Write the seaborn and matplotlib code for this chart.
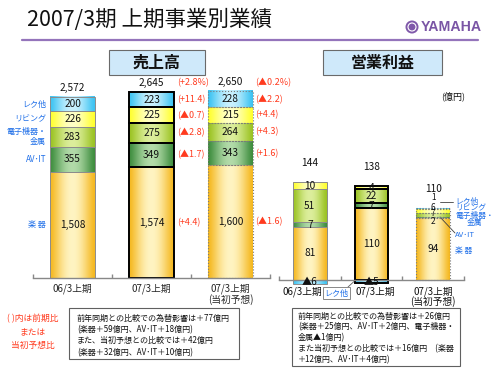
import numpy as np
import pandas as pd
import matplotlib
matplotlib.use("Agg")
import matplotlib.pyplot as plt
import matplotlib.colors as mcolors
from matplotlib.patches import Rectangle, Ellipse
from matplotlib.lines import Line2D
import seaborn as sns

sns.set_theme(style="white")
plt.rcParams['font.family'] = ['Noto Sans CJK JP', 'DejaVu Sans']

# ---------------- data ----------------
periods = ["06/3上期", "07/3上期", "07/3上期\n(当初予想)"]
segment_names = ["楽器", "AV・IT", "電子機器・金属", "リビング", "レク他"]
segment_labels = ["楽 器", "AV･IT", "電子機器・\n金属", "リビング", "レク他"]

sales_musical = [1508, 1574, 1600]
sales_avit = [355, 349, 343]
sales_elec = [283, 275, 264]
sales_living = [226, 225, 215]
sales_rec = [200, 223, 228]
sales_totals = [2572, 2645, 2650]
sales_chg_actual = ["(+4.4)", "(▲1.7)", "(▲2.8)", "(▲0.7)", "(+11.4)"]
sales_chg_plan = ["(▲1.6)", "(+1.6)", "(+4.3)", "(+4.4)", "(▲2.2)"]
sales_chg_total = ["(+2.8%)", "(▲0.2%)"]

profit_musical = [81, 110, 94]
profit_avit = [7, 7, 2]
profit_elec = [51, 22, 7]
profit_living = [10, 4, 6]
profit_rec = [-6, -5, 1]
profit_totals = [144, 138, 110]

note_left = ["前年同期との比較での為替影響は＋77億円",
             "(楽器＋59億円、AV･IT＋18億円)",
             "また、当初予想との比較では＋42億円",
             "(楽器＋32億円、AV･IT＋10億円)"]
note_right = ["前年同期との比較での為替影響は＋26億円",
              "(楽器＋25億円、AV･IT＋2億円、電子機器・",
              "金属▲1億円)",
              "また当初予想との比較では＋16億円　(楽器",
              "＋12億円、AV･IT＋4億円)"]

sales_series = [sales_musical, sales_avit, sales_elec, sales_living, sales_rec]
profit_series = [profit_musical, profit_avit, profit_elec, profit_living, profit_rec]

# ---------------- style ----------------
GRAD = [("#f5b81f", "#fff4c2"),   # 楽器
        ("#3e8d3e", "#b2dba9"),   # AV・IT
        ("#9bc322", "#dcee9c"),   # 電子機器・金属
        ("#ffff2e", "#ffffc6"),   # リビング
        ("#3cc3f2", "#c9f1ff")]   # レク他
BAR_STYLES = [dict(ec="#8c8c8c", lw=0.7, ls="-"),
              dict(ec="black", lw=1.4, ls="-"),
              dict(ec="#7a7a7a", lw=0.8, ls=":")]
RED = "#ff3b1f"
BLUE = "#1f6fe8"

W, H = 500, 375
def fx(x): return x / W
def fy(y): return 1 - y / H

fig = plt.figure(figsize=(5, 3.75), dpi=100)
fig.patch.set_facecolor("white")

SCALE_L = 0.0704
SCALE_R = 0.655
axL = fig.add_axes([fx(33), (H - 278) / H, 237 / W, 218 / H])
axR = fig.add_axes([fx(279), (H - 300) / H, 185 / W, 240 / H])


def add_gradient(ax, p, c_edge, c_mid):
    x0, w = p.get_x(), p.get_width()
    y0, h = p.get_y(), p.get_height()
    t = np.linspace(0, 1, 90)
    f = np.sin(np.pi * t) ** 1.3
    ce = np.array(mcolors.to_rgb(c_edge))
    cm = np.array(mcolors.to_rgb(c_mid))
    row = ce[None, :] * (1 - f[:, None]) + cm[None, :] * f[:, None]
    ax.imshow(row[None, :, :], extent=[x0, x0 + w, min(y0, y0 + h), max(y0, y0 + h)],
              aspect="auto", interpolation="bilinear", zorder=2)


def draw_stack(ax, series_list, width):
    n = len(periods)
    pos = np.zeros(n)
    neg = np.zeros(n)
    bottoms_all = []
    for s_idx, vals in enumerate(series_list):
        vals = np.asarray(vals, float)
        bottoms = np.where(vals >= 0, pos, neg)
        df = pd.DataFrame({"period": periods, "value": vals})
        before = len(ax.patches)
        sns.barplot(data=df, x="period", y="value", order=periods, bottom=bottoms,
                    color=GRAD[s_idx][0], saturation=1, width=width,
                    errorbar=None, ax=ax)
        for b_idx, p in enumerate(ax.patches[before:]):
            add_gradient(ax, p, *GRAD[s_idx])
            st = BAR_STYLES[b_idx]
            p.set_facecolor("none")
            p.set_edgecolor(st["ec"])
            p.set_linewidth(st["lw"])
            p.set_linestyle(st["ls"])
            p.set_zorder(3)
        bottoms_all.append(bottoms.copy())
        pos += np.where(vals > 0, vals, 0)
        neg += np.where(vals < 0, vals, 0)
    return bottoms_all, pos


def style_axis(ax, ylim, zero_spine=False, labels=True):
    ax.set_xlim(-0.5, 2.5)
    ax.set_ylim(*ylim)
    ax.set_facecolor("none")
    for s in ["left", "right", "top"]:
        ax.spines[s].set_visible(False)
    if zero_spine:
        ax.spines["bottom"].set_position(("data", 0))
    ax.spines["bottom"].set_color("#888888")
    ax.spines["bottom"].set_linewidth(1.0)
    ax.spines["bottom"].set_zorder(4)
    ax.set_yticks([])
    ax.set_xlabel("")
    ax.set_ylabel("")
    ax.set_xticks([0, 1, 2])
    if labels:
        ax.set_xticklabels(periods, fontsize=7, linespacing=1.05)
    else:
        ax.set_xticklabels(["", "", ""])
    ax.set_xticks([-0.5, 0.5, 1.5, 2.5], minor=True)
    ax.tick_params(axis="x", which="major", length=0, pad=4)
    ax.tick_params(axis="x", which="minor", length=3, direction="in",
                   color="#888888", width=1, bottom=True)


# ---------------- sales (left) ----------------
botL, topL = draw_stack(axL, sales_series, 0.56)
style_axis(axL, (0, 218 / SCALE_L))

for s_idx, vals in enumerate(sales_series):
    for b in range(3):
        v = vals[b]
        axL.text(b, botL[s_idx][b] + v / 2, f"{v:,}", ha="center", va="center",
                 fontsize=7.3, color="#111111", zorder=6)
for b in range(3):
    axL.annotate(f"{sales_totals[b]:,}", (b, topL[b]), xytext=(0, 6.5),
                 textcoords="offset points", ha="center", va="center",
                 fontsize=7.3, color="#111111")
for s_idx, vals in enumerate(sales_series):
    axL.text(-0.335, botL[s_idx][0] + vals[0] / 2, segment_labels[s_idx],
             ha="right", va="center", fontsize=5.8, color=BLUE, linespacing=1.15)
for b, x, chg, tot in [(1, 1.32, sales_chg_actual, sales_chg_total[0]),
                       (2, 2.31, sales_chg_plan, sales_chg_total[1])]:
    for s_idx, vals in enumerate(sales_series):
        axL.text(x, botL[s_idx][b] + vals[b] / 2, chg[s_idx], ha="left",
                 va="center", fontsize=6.5, color=RED)
    axL.annotate(tot, (x, topL[b]), xytext=(0, 6.5), textcoords="offset points",
                 ha="left", va="center", fontsize=6.5, color=RED)

# ---------------- operating profit (right) ----------------
botR, topR = draw_stack(axR, profit_series, 0.55)
style_axis(axR, (-20 / SCALE_R, 220 / SCALE_R), zero_spine=True, labels=False)

def ry(px): return (280 - px) / SCALE_R
def rx(px): return (px - 279) / 61.67 - 0.5

for b, xpx in enumerate([302, 375, 433]):
    axR.text(rx(xpx), ry(286.5), periods[b], ha="center", va="top", fontsize=7,
             color="#111111", linespacing=0.95, clip_on=False)

# forecast labels on very thin segments are nudged apart (pixel rows)
label_y_px = {(4, 2): 197.5, (3, 2): 207, (2, 2): 213.5, (1, 2): 221.5}
for s_idx, vals in enumerate(profit_series):
    for b in range(3):
        v = vals[b]
        txt = f"▲{abs(v)}" if v < 0 else f"{v}"
        y = botR[s_idx][b] + v / 2
        fs = 7.3
        if b == 2 and abs(v) < 10:
            fs = 5.9
        if (s_idx, b) in label_y_px:
            y = ry(label_y_px[(s_idx, b)])
        axR.text(b, y, txt, ha="center", va="center", fontsize=fs,
                 color="#111111", zorder=6)
for b in range(3):
    axR.annotate(f"{profit_totals[b]}", (b, topR[b]), xytext=(0, 14),
                 textcoords="offset points", ha="center", va="center",
                 fontsize=7.3, color="#111111")

xr = rx(455)
fsl = 5.6
axR.text(xr, ry(201.5), "レク他", ha="left", va="center", fontsize=fsl, color=BLUE, clip_on=False)
axR.text(xr, ry(208.5), "リビング", ha="left", va="center", fontsize=fsl, color=BLUE, clip_on=False)
axR.text(xr, ry(216), "電子機器・", ha="left", va="center", fontsize=fsl, color=BLUE, clip_on=False)
axR.text(rx(467), ry(223), "金属", ha="left", va="center", fontsize=fsl, color=BLUE, clip_on=False)
axR.text(xr, ry(235), "AV･IT", ha="left", va="center", fontsize=fsl, color=BLUE, clip_on=False)
axR.text(xr, ry(251), "楽 器", ha="left", va="center", fontsize=fsl, color=BLUE, clip_on=False)
axR.plot([rx(440), rx(453)], [ry(201.5), ry(201.5)], color="#404040", lw=0.6, clip_on=False)
axR.plot([rx(440), rx(455)], [ry(217), ry(233)], color="#404040", lw=0.6, clip_on=False)

axR.text(rx(336.5), ry(293), "レク他", ha="center", va="center", fontsize=5.8,
         color=BLUE, bbox=dict(boxstyle="square,pad=0.18", fc="white",
                               ec="#888888", lw=0.7), zorder=7, clip_on=False)
axR.plot([rx(348), rx(354)], [ry(287), ry(281.5)], color="#606060", lw=0.6, clip_on=False)

# ---------------- static decorations ----------------
fig.text(fx(27), fy(20), "2007/3期 上期事業別業績", fontsize=15.5, ha="left",
         va="center", color="#111111")
fig.add_artist(Line2D([fx(22), fx(478)], [fy(40), fy(40)], color="#9474bb", lw=1.6))
fig.add_artist(Ellipse((fx(412), fy(27)), 13 / W, 13 / H, transform=fig.transFigure,
                       fc="#8059aa", ec="none"))
fig.add_artist(Ellipse((fx(412), fy(27)), 8 / W, 8 / H, transform=fig.transFigure,
                       fc="none", ec="white", lw=0.8))
fig.text(fx(421), fy(27), "YAMAHA", fontsize=10.2, fontweight="bold", color="#7a55a5",
         ha="left", va="center",
         family=["Liberation Sans Narrow", "Liberation Sans", "DejaVu Sans"])

for (x0, x1, label) in [(109, 205, "売上高"), (323, 442, "営業利益")]:
    fig.add_artist(Rectangle((fx(x0), fy(75)), (x1 - x0) / W, 25 / H,
                             transform=fig.transFigure, fc="#cfe9fa", ec="#6a6a6a", lw=0.8))
    fig.text(fx((x0 + x1) / 2), fy(62.5), label, fontsize=11.5, fontweight="bold",
             ha="center", va="center", color="#111111")

fig.text(fx(453), fy(96), "(億円)", fontsize=6.5, ha="center", va="center", color="#111111")

fig.text(fx(33), fy(332), "( )内は前期比\nまたは\n当初予想比", fontsize=6.3, ha="center",
         va="center", color=RED, linespacing=1.6)

fig.add_artist(Rectangle((fx(69), fy(359)), 170 / W, 51 / H, transform=fig.transFigure,
                         fc="white", ec="#606060", lw=0.8))
for i, line in enumerate(note_left):
    fig.text(fx(77), fy(318 + i * 11.4), line, fontsize=5.8, ha="left", va="center",
             color="#111111")

fig.add_artist(Rectangle((fx(292), fy(366)), 168 / W, 58 / H, transform=fig.transFigure,
                         fc="white", ec="#606060", lw=0.8))
for i, line in enumerate(note_right):
    fig.text(fx(298), fy(316 + i * 11), line, fontsize=5.8, ha="left", va="center",
             color="#111111")

fig.savefig("out.png", dpi=100, facecolor="white")
